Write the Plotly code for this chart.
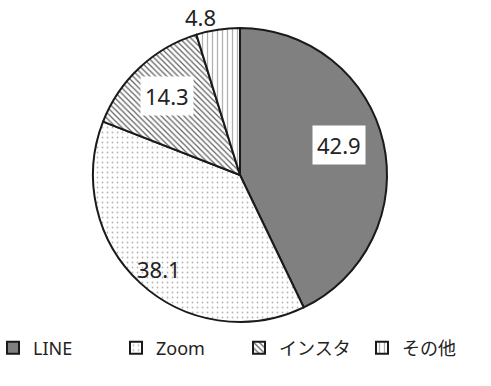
import math
import plotly.graph_objects as go

labels = ["LINE", "Zoom", "インスタ", "その他"]
values = [42.9, 38.1, 14.3, 4.8]
label_text = ["42.9", "38.1", "14.3", "4.8"]

FONT = "Noto Sans, Noto Sans CJK JP"
W, H = 491, 386
ML, MR, MT, MB = 0, 0, 28, 64
PW, PH = W - ML - MR, H - MT - MB
CX, R = 240, 147  # pie centre x (px) and radius (px): layout style
dom_x = [(CX - R) / PW, (CX + R) / PW]

fig = go.Figure(go.Pie(
    labels=labels, values=values, sort=False, direction="clockwise", rotation=0,
    textinfo="none", hoverinfo="label+value",
    domain=dict(x=dom_x, y=[0, 1]),
    marker=dict(
        colors=["#808080", "white", "white", "white"],
        line=dict(color="#1a1a1a", width=2),
        pattern=dict(
            shape=["", ".", "\\", "|"],
            fgcolor=["#808080", "#b4b4b4", "#606060", "#b0b0b0"],
            bgcolor=["#808080", "white", "white", "white"],
            size=[6, 5, 4, 5],
            solidity=[0.2, 0.1, 0.3, 0.25],
            fillmode="replace",
        ),
    ),
))

# label placement (style): radius factor, box flag, shifts
rfac = [0.68, 0.84, 0.73, 1.09]
boxed = [True, False, True, False]
xsh = [2, 3, 0, -15]
ysh = [8, -3, 0, 0]
total = sum(values)
cum = 0
for i, v in enumerate(values):
    mid = (cum + v / 2) / total * 2 * math.pi
    cum += v
    px = CX + R * rfac[i] * math.sin(mid)
    py = PH / 2 + R * rfac[i] * math.cos(mid)
    fig.add_annotation(
        x=px / PW, y=py / PH, xref="paper", yref="paper", text=label_text[i],
        showarrow=False, xanchor="center", yanchor="middle",
        xshift=xsh[i], yshift=ysh[i],
        font=dict(family=FONT, size=22, color="#222"),
        bgcolor="white" if boxed[i] else "rgba(0,0,0,0)", borderpad=4,
    )

fig.update_layout(
    width=W, height=H,
    margin=dict(l=ML, r=MR, t=MT, b=MB, autoexpand=False),
    paper_bgcolor="white", plot_bgcolor="white",
    font=dict(family=FONT, size=18, color="#222"),
    showlegend=True,
    legend=dict(orientation="h", x=-7 / PW, xanchor="left", y=-26 / PH, yanchor="middle",
                entrywidth=78, font=dict(size=18), itemwidth=30),
)

fig.write_html("out.html")
